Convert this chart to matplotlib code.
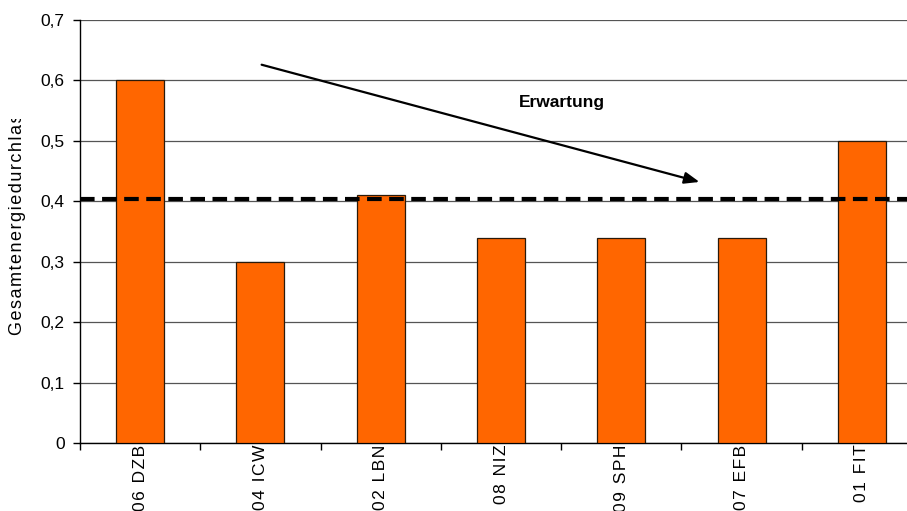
import matplotlib
matplotlib.use("Agg")
import matplotlib.pyplot as plt  # noqa: E402
from matplotlib.transforms import Bbox  # noqa: E402

plt.rcParams["font.family"] = ["Liberation Sans", "DejaVu Sans"]

# g-values per building
labels = ["06 DZB", "04 ICW", "02 LBN", "08 NIZ", "09 SPH", "07 EFB", "01 FIT"]
g_values = [0.60, 0.30, 0.41, 0.34, 0.34, 0.34, 0.50]
mean_g = 0.403
yticks = [0, 0.1, 0.2, 0.3, 0.4, 0.5, 0.6, 0.7]


def spaced(s):
    # loose letter spacing via hair spaces
    return "\u200a".join(s)


fig = plt.figure(figsize=(9.07, 5.11), dpi=100)
ax = fig.add_axes([80 / 907, 68 / 511, 842 / 907, 423 / 511])

x = list(range(len(labels)))
ax.bar(x, g_values, width=0.4, color="#ff6600", edgecolor="#2a1a0a", linewidth=0.9, zorder=3)

# mean line
ax.axhline(mean_g, color="black", linewidth=3, dashes=(3.5, 1.8), zorder=4)

ax.set_xlim(-0.5, len(labels) - 0.5)
ax.set_ylim(0, 0.7)
ax.set_yticks(yticks)
ax.set_yticklabels([("%g" % v).replace(".", ",") for v in yticks], fontsize=12.5)
ax.yaxis.grid(True, color="#555555", linewidth=0.9, zorder=0)
ax.tick_params(axis="y", direction="out", length=5, width=1, pad=6)

ax.set_xticks(x)
ax.set_xticklabels([spaced(s) for s in labels], rotation=90, fontsize=12.5)
ax.set_xticks([i - 0.5 for i in range(len(labels) + 1)], minor=True)
ax.tick_params(axis="x", which="major", length=0, pad=1)
ax.tick_params(axis="x", which="minor", direction="out", length=5, width=1)

for side in ["top", "right"]:
    ax.spines[side].set_visible(False)
ax.spines["left"].set_linewidth(1)
ax.spines["bottom"].set_linewidth(1)

# trend arrow
ax.annotate("", xy=(4.65, 0.432), xytext=(1.01, 0.626),
            arrowprops=dict(arrowstyle="-|>,head_length=0.9,head_width=0.35",
                            color="black", linewidth=1.6, shrinkA=0, shrinkB=0),
            zorder=5)
ax.text(3.51, 0.564, "Erwartung", fontsize=12.5, fontweight="bold", ha="center", va="center")

ylab = fig.text(18 / 907, 1 - 335 / 511, spaced("Gesamtenergiedurchlass"), rotation=90,
                ha="center", va="bottom", fontsize=13)
ylab.set_clip_box(Bbox([[0, 0], [907, 511 - 119]]))
ylab.set_clip_on(True)

fig.savefig("out.png", dpi=100)
